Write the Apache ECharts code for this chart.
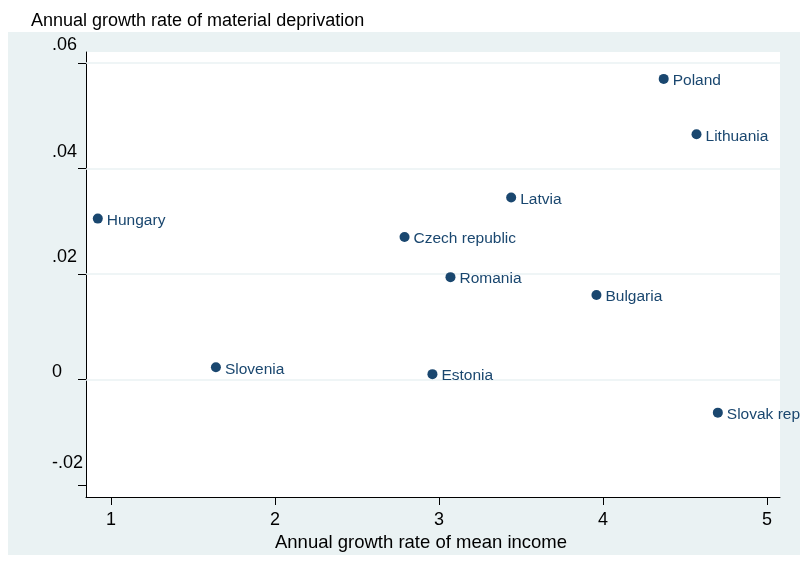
<!DOCTYPE html>
<html>
<head>
<meta charset="utf-8">
<script src="https://cdn.jsdelivr.net/npm/echarts@6/dist/echarts.min.js"></script>
<style>
  html, body { margin: 0; padding: 0; background: #fff; }
  #chart { width: 800px; height: 564px; }
</style>
</head>
<body>
<div id="chart"></div>
<script>
// countries and their growth rates
const countries = ['Hungary', 'Slovenia', 'Czech republic', 'Estonia', 'Romania',
  'Latvia', 'Bulgaria', 'Poland', 'Lithuania', 'Slovak republic']
const incomeGrowth = [0.92, 1.64, 2.79, 2.96, 3.07, 3.44, 3.96, 4.37, 4.57, 4.70]
const deprivationGrowth = [0.0305, 0.0023, 0.0270, 0.0010, 0.0194, 0.0345, 0.0160, 0.0570, 0.0465, -0.0063]

const xTicks = [1, 2, 3, 4, 5]
const yTicks = [-0.02, 0, 0.02, 0.04, 0.06]
const yTickLabels = ['-.02', '0', '.02', '.04', '.06']
const gridLines = [0, 0.02, 0.04, 0.06]

const font = "'Liberation Sans', Arial, sans-serif"
const navy = '#1a476f'
const bg = '#eaf2f3'

// label lift above tick (px), as drawn in the original
const lift = { '-.02': 22, '0': 7, '.02': 17, '.04': 16, '.06': 18 }
const rich = {}
yTickLabels.forEach((t, i) => {
  rich['l' + i] = { fontSize: 18, fontFamily: font, color: '#000', padding: [0, 0, lift[t] * 2, 0] }
})

const points = countries.map((c, i) => ({ name: c, value: [incomeGrowth[i], deprivationGrowth[i]] }))

const myChart = echarts.init(document.getElementById('chart'))
myChart.setOption({
  backgroundColor: '#fff',
  animation: false,
  graphic: [
    { type: 'rect', z: -10, shape: { x: 8, y: 32, width: 792, height: 523 }, style: { fill: bg } },
    {
      type: 'text', left: 31, top: 12, z: 100,
      style: { text: 'Annual growth rate of material deprivation', fontSize: 18, fontFamily: font, fill: '#000' }
    }
  ],
  grid: {
    left: 86, right: 20, top: 52, bottom: 67,
    show: true, backgroundColor: '#fff', borderWidth: 0
  },
  xAxis: {
    type: 'value',
    min: 0.848, max: 5.079,
    name: 'Annual growth rate of mean income',
    nameLocation: 'middle',
    nameGap: 26,
    nameTextStyle: { fontSize: 18.5, fontFamily: font, color: '#000', padding: [0, 24, 0, 0] },
    axisLine: { show: true, onZero: false, lineStyle: { color: '#000', width: 1 } },
    axisTick: { show: true, length: 8, customValues: xTicks, lineStyle: { color: '#000' } },
    axisLabel: { customValues: xTicks, margin: 14, fontSize: 18, fontFamily: font, color: '#000' },
    splitLine: { show: false }
  },
  yAxis: {
    type: 'value',
    min: -0.0223, max: 0.0621,
    axisLine: { show: true, onZero: false, lineStyle: { color: '#000', width: 1 } },
    axisTick: { show: true, length: 8, customValues: yTicks, lineStyle: { color: '#000' } },
    axisLabel: {
      customValues: yTicks,
      align: 'left',
      margin: 34,
      formatter: v => {
        const i = yTicks.findIndex(t => Math.abs(t - v) < 1e-9)
        return i < 0 ? '' : '{l' + i + '|' + yTickLabels[i] + '}'
      },
      rich: rich
    },
    splitLine: { show: false }
  },
  series: [{
    type: 'scatter',
    data: points,
    symbolSize: 10,
    itemStyle: { color: navy, opacity: 1 },
    label: {
      show: true,
      position: 'right',
      distance: 4,
      formatter: p => p.name,
      fontSize: 15.5,
      fontFamily: font,
      color: navy,
      offset: [0, 2]
    },
    markLine: {
      silent: true,
      symbol: 'none',
      label: { show: false },
      lineStyle: { color: bg, width: 1.5, type: 'solid' },
      z: 1,
      data: gridLines.map(v => ({ yAxis: v }))
    }
  }]
})
</script>
</body>
</html>
